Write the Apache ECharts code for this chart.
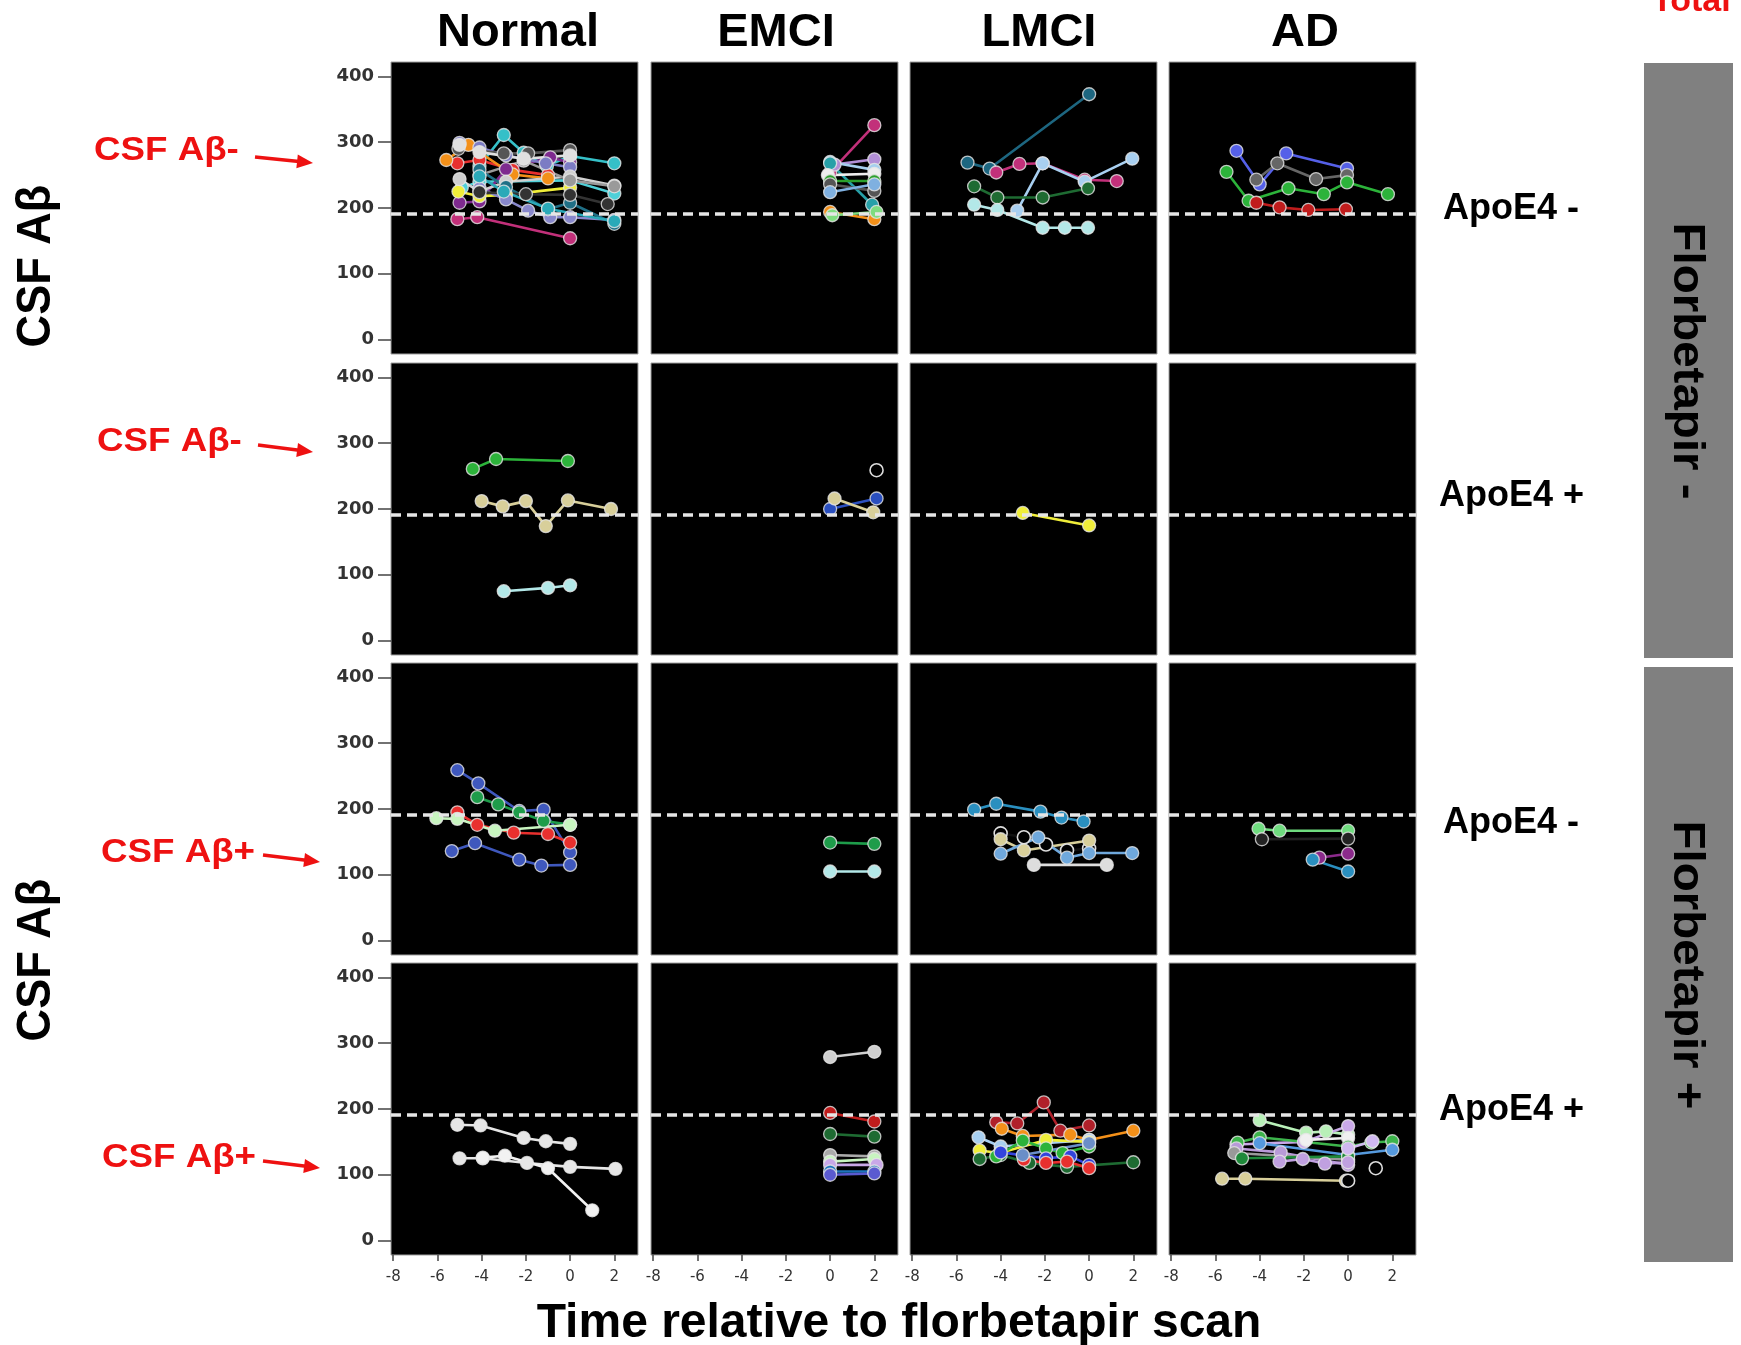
<!DOCTYPE html>
<html>
<head>
<meta charset="utf-8">
<script src="https://cdn.jsdelivr.net/npm/echarts@6/dist/echarts.min.js"></script>
<style>
  body { margin: 0; background: #fff; }
  #chart { width: 1741px; height: 1345px; }
</style>
</head>
<body>
<div id="chart"></div>
<script>
// axis ticks and labels
const timeTicks = [-8, -6, -4, -2, 0, 2]
const csfTicks = [0, 100, 200, 300, 400]
const cutoff = 192
const groups = ['Normal', 'EMCI', 'LMCI', 'AD']
const apoeLabels = ['ApoE4 -', 'ApoE4 +', 'ApoE4 -', 'ApoE4 +']
const csfLabels = ['CSF Aβ-', 'CSF Aβ-', 'CSF Aβ+', 'CSF Aβ+']
const florLabels = ['Florbetapir -', 'Florbetapir +']

// each subject: list of [years from scan, CSF Aβ]
const r1Normal = [
  [[-4.1, 264], [-3.0, 311], [-2.1, 284], [-1.05, 264], [0, 279], [2, 268]],
  [[-4.9, 231], [-4.1, 240], [0, 242], [2, 222]],
  [[-5.1, 268], [-4.1, 273], [-2.6, 258], [-1.0, 250]],
  [[-5.6, 273], [-4.6, 296], [-2.6, 251], [-1.0, 245]],
  [[-5.0, 208], [-4.1, 210], [-2.9, 259], [-0.9, 277], [0, 269]],
  [[-5.1, 183], [-4.2, 186], [0, 154]],
  [[-5.05, 225], [-4.1, 218], [-2.9, 220], [0, 231]],
  [[-5.0, 299], [-4.1, 292], [-2.9, 280], [-1.1, 268], [0, 262]],
  [[-4.1, 230], [-2.9, 213], [-1.9, 196], [-0.9, 186], [0, 186], [2, 182]],
  [[-5.05, 290], [-3.0, 283], [-1.9, 283], [0, 288]],
  [[-5.0, 244], [-4.1, 225], [-2.9, 240], [0, 248], [2, 234]],
  [[-4.1, 250], [-2.1, 272], [0, 242], [2, 233]],
  [[-4.1, 258], [-2.9, 232], [-1.0, 198], [0, 208], [2, 176]],
  [[-4.1, 224], [-2.0, 221], [0, 220], [1.7, 206]],
  [[-5.0, 296], [-4.1, 285], [-2.1, 275], [0, 280]],
  [[-4.1, 248], [-3.0, 225], [-1.0, 199], [2, 180]]
]
const r1Emci = [
  [[0, 254], [2, 326]],
  [[0.2, 266], [2, 274]],
  [[0, 270], [2, 258]],
  [[0, 268], [1.9, 205]],
  [[-0.1, 250], [2, 252]],
  [[0, 241], [2, 241]],
  [[0, 236], [2, 226]],
  [[0, 224], [2, 236]],
  [[0, 194], [2, 183]],
  [[0.1, 189], [2.1, 194]]
]
const r1Lmci = [
  [[-5.5, 269], [-4.5, 260], [0, 373]],
  [[-4.2, 254], [-3.15, 267], [-2.1, 268], [-0.2, 243], [1.25, 241]],
  [[-3.25, 196], [-2.1, 268], [-0.2, 240], [1.95, 275]],
  [[-5.2, 233], [-4.15, 216], [-2.1, 216], [-0.05, 230]],
  [[-5.2, 205], [-4.15, 197], [-2.1, 170], [-1.1, 170], [-0.05, 170]]
]
const r1Ad = [
  [[-5.05, 287], [-4.0, 236], [-2.8, 283], [-0.05, 260]],
  [[-4.15, 243], [-3.2, 268], [-1.45, 244], [-0.05, 250]],
  [[-5.5, 255], [-4.5, 211], [-2.7, 230], [-1.1, 221], [-0.05, 239], [1.8, 221]],
  [[-4.15, 208], [-3.1, 201], [-1.8, 197], [-0.1, 198]]
]
const r2Normal = [
  [[-4.4, 261], [-3.35, 276], [-0.1, 273]],
  [[-4.0, 212], [-3.05, 204], [-2.0, 212], [-1.1, 174], [-0.1, 213], [1.85, 200]],
  [[-3.0, 75], [-1.0, 80], [0, 84]]
]
const r2Emci = [
  [[0, 200], [2.1, 216]],
  [[0.2, 216], [1.95, 195]],
  [[2.1, 259]]
]
const r2Lmci = [
  [[-3.0, 194], [0, 175]]
]
const r2Ad = []
const r3Normal = [
  [[-5.1, 259], [-4.15, 239], [-2.3, 197], [-1.2, 199], [0, 134]],
  [[-5.35, 136], [-4.3, 148], [-2.3, 123], [-1.3, 114], [0, 115]],
  [[-4.2, 218], [-3.25, 207], [-2.3, 195], [-1.2, 182], [0, 176]],
  [[-5.1, 195], [-4.2, 176], [-2.55, 164], [-1.0, 162], [0, 149]],
  [[-6.05, 186], [-5.1, 185], [-3.4, 167], [0, 176]]
]
const r3Emci = [
  [[0, 149], [2, 147]],
  [[0, 105], [2, 105]]
]
const r3Lmci = [
  [[-5.2, 199], [-4.2, 208], [-2.2, 196], [-1.25, 187], [-0.25, 181]],
  [[-4.0, 163], [-2.95, 157], [-1.95, 146], [-1.0, 137], [0, 140]],
  [[-4.0, 154], [-2.95, 137], [0, 152]],
  [[-4.0, 132], [-2.3, 157], [-1.0, 126], [0, 133], [1.95, 133]],
  [[-2.5, 115], [0.8, 115]]
]
const r3Ad = [
  [[-4.05, 170], [-3.1, 167], [0, 167]],
  [[-3.9, 154], [0, 155]],
  [[-1.3, 126], [0, 132]],
  [[-1.6, 123], [0, 105]]
]
const r4Normal = [
  [[-5.1, 176], [-4.05, 175], [-2.1, 156], [-1.1, 151], [0, 147]],
  [[-5.0, 125], [-3.95, 125], [-1.95, 118], [0, 112], [2.05, 109]],
  [[-3.95, 126], [-2.95, 129], [-1.0, 110], [1.0, 46]]
]
const r4Emci = [
  [[0, 279], [2, 287]],
  [[0, 194], [2, 181]],
  [[0, 162], [2, 158]],
  [[0, 130], [2, 128]],
  [[0, 120], [2, 124]],
  [[0, 115], [2.1, 115]],
  [[0, 105], [2, 105]],
  [[0, 100], [2, 102]]
]
const r4Lmci = [
  [[-4.2, 180], [-3.25, 178], [-2.05, 210], [-1.3, 167], [0, 175]],
  [[-3.95, 170], [-3.0, 159], [-0.85, 161], [0, 153], [2, 167]],
  [[-5.0, 157], [-4.0, 143], [0, 153]],
  [[-4.95, 137], [-4.05, 133], [-1.95, 153], [0, 150]],
  [[-4.95, 124], [-4.0, 130], [-2.7, 118], [-1.0, 112], [2, 119]],
  [[-4.2, 128], [-3.0, 152], [-1.95, 140], [-1.2, 133], [0, 143]],
  [[-4.0, 134], [-1.95, 125], [-0.85, 128], [0, 115]],
  [[-2.95, 123], [-1.95, 118], [-1.0, 120], [0, 110]],
  [[-3.0, 130], [0, 148]]
]
const r4Ad = [
  [[-4.0, 183], [-1.9, 164], [-1.0, 166], [0, 161]],
  [[-5.05, 146], [-2.0, 150], [0, 174]],
  [[-1.9, 153], [0, 156]],
  [[-5.0, 149], [-4.0, 157], [0, 143], [1.05, 149], [2, 151]],
  [[-4.0, 148], [0, 130], [2, 138]],
  [[-5.05, 140], [-3.05, 134], [0, 115]],
  [[-5.15, 133], [0, 123]],
  [[-4.8, 125], [0, 128]],
  [[-3.1, 120], [-2.05, 124], [-1.05, 117], [0, 119]],
  [[0, 140], [1.1, 151]],
  [[-5.7, 94], [-4.65, 94], [-0.1, 91]],
  [[0, 91]],
  [[1.25, 110]]
]

// line colours per panel ('open' = hollow marker)
const r1NormalColors = ['#35c0c8', '#4fd0d8', '#e8302e', '#f39019', '#7e2a8f', '#c2307a', '#f0ee3a',
  '#7c7cc4', '#8888cc', '#555555', '#cfcfcf', '#9a9a9a', '#1f6f86', '#333333', '#e0e0e0', '#2aa9b8']
const r1EmciColors = ['#c2307a', '#b28fd6', '#a6cfee', '#27a0a8', '#eeeeee', '#2ca02c', '#555555',
  '#7fb0e0', '#f39019', '#7fdc7f']
const r1LmciColors = ['#1d6680', '#c2307a', '#a8cff0', '#1e6b32', '#b3e8e8']
const r1AdColors = ['#5560e8', '#666666', '#2cb33a', '#c01c1c']
const r2NormalColors = ['#2cb33a', '#d8cf9a', '#b3e8e8']
const r2EmciColors = ['#2a4fbf', '#d8cf9a', 'open']
const r2LmciColors = ['#f0ee3a']
const r2AdColors = []
const r3NormalColors = ['#3f58bd', '#3f58bd', '#1e9c4a', '#e8302e', '#c8f5c0']
const r3EmciColors = ['#1e9c4a', '#b3e8e8']
const r3LmciColors = ['#2a8fbf', 'open', '#d8cf9a', '#6fa8dc', '#dddddd']
const r3AdColors = ['#6fdc7f', '#222222', '#8b2a8b', '#2a8fbf']
const r4NormalColors = ['#e6e6e6', '#e6e6e6', '#f2f2f2']
const r4EmciColors = ['#cfcfcf', '#c01c1c', '#1e6b32', '#aaaaaa', '#c8f5c0', '#c9a8e8', '#1e73be', '#5a5ad0']
const r4LmciColors = ['#b0202a', '#f39019', '#a8cff0', '#f0ee3a', '#1e6b32', '#2cb33a', '#3344dd', '#e8302e', '#6a8ec8']
const r4AdColors = ['#b8f0b8', '#c9a8e8', '#f0f0f0', '#3cb44b', '#5599dd', '#b89ad8', '#999999', '#1e8a3a',
  '#c0a0e0', '#d0b8f0', '#d8cf9a', 'open', 'open']

const panels = [
  [r1Normal, r1NormalColors], [r1Emci, r1EmciColors], [r1Lmci, r1LmciColors], [r1Ad, r1AdColors],
  [r2Normal, r2NormalColors], [r2Emci, r2EmciColors], [r2Lmci, r2LmciColors], [r2Ad, r2AdColors],
  [r3Normal, r3NormalColors], [r3Emci, r3EmciColors], [r3Lmci, r3LmciColors], [r3Ad, r3AdColors],
  [r4Normal, r4NormalColors], [r4Emci, r4EmciColors], [r4Lmci, r4LmciColors], [r4Ad, r4AdColors]
]

const colLeft = [391, 651, 910, 1169]
const rowTop = [62, 363, 663, 963]
const font = 'Liberation Sans, Arial, sans-serif'

const grids = []
const xAxes = []
const yAxes = []
const series = []

panels.forEach(([subjects, colors], i) => {
  const row = Math.floor(i / 4)
  const col = i % 4
  grids.push({
    left: colLeft[col], top: rowTop[row], width: 247, height: 292,
    show: true, backgroundColor: '#000', borderColor: '#a0a0a0', borderWidth: 1
  })
  xAxes.push({
    gridIndex: i, type: 'value', min: -8.1, max: 3.07, position: 'bottom',
    axisLine: { show: false, onZero: false }, splitLine: { show: false },
    axisTick: { show: row === 3, length: 6, customValues: timeTicks, lineStyle: { color: '#444', width: 1.5 } },
    axisLabel: { show: row === 3, customValues: timeTicks, margin: 15, fontSize: 15, color: '#333', fontFamily: 'DejaVu Sans' }
  })
  yAxes.push({
    gridIndex: i, type: 'value', min: -22, max: 422, position: 'left',
    axisLine: { show: false, onZero: false }, splitLine: { show: false },
    axisTick: { show: col === 0, length: 13, customValues: csfTicks, lineStyle: { color: '#444', width: 1.5 } },
    axisLabel: { show: col === 0, customValues: csfTicks, margin: 17, fontSize: 18, fontWeight: 'bold', color: '#333', fontFamily: 'DejaVu Sans' }
  })
  // dashed cut-off line
  series.push({
    type: 'line', xAxisIndex: i, yAxisIndex: i, data: [], silent: true, z: 1,
    markLine: {
      silent: true, symbol: 'none', animation: false, label: { show: false },
      lineStyle: { type: [10, 6], color: '#e6e6e6', width: 3.5 },
      data: [{ yAxis: cutoff }]
    }
  })
  subjects.forEach((pts, j) => {
    const c = colors[j]
    const open = c === 'open'
    series.push({
      type: 'line', xAxisIndex: i, yAxisIndex: i, data: pts, z: 3,
      symbol: 'circle', symbolSize: 13, showSymbol: true, animation: false,
      lineStyle: { color: open ? '#111' : c, width: 2.6 },
      itemStyle: { color: open ? '#000' : c, borderColor: open ? '#dddddd' : 'rgba(230,230,230,0.8)', borderWidth: open ? 1.6 : 1.3 }
    })
  })
})

function arrow(x1, y1, x2, y2) {
  const a = Math.atan2(y2 - y1, x2 - x1)
  const L = 16, W = 7
  const bx = x2 - L * Math.cos(a), by = y2 - L * Math.sin(a)
  return [
    { type: 'line', shape: { x1: x1, y1: y1, x2: bx + 2 * Math.cos(a), y2: by + 2 * Math.sin(a) }, style: { stroke: '#ee1111', lineWidth: 3.5 } },
    { type: 'polygon', shape: { points: [[x2, y2], [bx + W * Math.sin(a), by - W * Math.cos(a)], [bx - W * Math.sin(a), by + W * Math.cos(a)]] }, style: { fill: '#ee1111' } }
  ]
}

const graphics = []
const titleX = [518, 776, 1039, 1305]
groups.forEach((g, k) => {
  graphics.push({ type: 'text', x: titleX[k], y: 33, style: { text: g, font: 'bold 47px ' + font, fill: '#000', align: 'center', verticalAlign: 'middle' } })
})
const apoeX = [1443, 1439, 1443, 1439]
const apoeY = [209, 496, 823, 1110]
apoeLabels.forEach((t, k) => {
  graphics.push({ type: 'text', x: apoeX[k], y: apoeY[k], style: { text: t, font: 'bold 36px ' + font, fill: '#000', align: 'left', verticalAlign: 'middle' } })
})
const csfX = [94, 97, 101, 102]
const csfY = [151, 442, 853, 1158]
csfLabels.forEach((t, k) => {
  graphics.push({ type: 'text', x: csfX[k], y: csfY[k], scaleX: 1.08, style: { text: t, font: 'bold 34px ' + font, fill: '#ee1111', align: 'left', verticalAlign: 'middle' } })
})
graphics.push(...arrow(255, 157, 313, 163), ...arrow(258, 445, 313, 452), ...arrow(263, 855, 320, 862), ...arrow(263, 1161, 320, 1168))

// vertical CSF Aβ labels
;[266, 960].forEach((y) => {
  graphics.push({ type: 'text', x: 36, y: y, rotation: Math.PI / 2, scaleX: 0.92, style: { text: 'CSF Aβ', font: 'bold 49px ' + font, fill: '#000', align: 'center', verticalAlign: 'middle' } })
})
// florbetapir boxes
const boxTop = [63, 667]
florLabels.forEach((t, k) => {
  graphics.push({ type: 'rect', shape: { x: 1644, y: boxTop[k], width: 89, height: 595 }, style: { fill: '#808080' } })
  graphics.push({ type: 'text', x: 1686, y: boxTop[k] + 298, rotation: -Math.PI / 2, scaleX: 1.08, style: { text: t, font: 'bold 44px ' + font, fill: '#000', align: 'center', verticalAlign: 'middle' } })
})
graphics.push({ type: 'text', x: 1652, y: 2, style: { text: 'Total', font: 'bold 34px ' + font, fill: '#ee1111', align: 'left', verticalAlign: 'middle' } })
graphics.push({ type: 'text', x: 899, y: 1324, style: { text: 'Time relative to florbetapir scan', font: 'bold 48px ' + font, fill: '#000', align: 'center', verticalAlign: 'middle' } })

const chart = echarts.init(document.getElementById('chart'))
chart.setOption({
  backgroundColor: '#fff',
  animation: false,
  grid: grids,
  xAxis: xAxes,
  yAxis: yAxes,
  series: series,
  graphic: graphics
})
</script>
</body>
</html>
